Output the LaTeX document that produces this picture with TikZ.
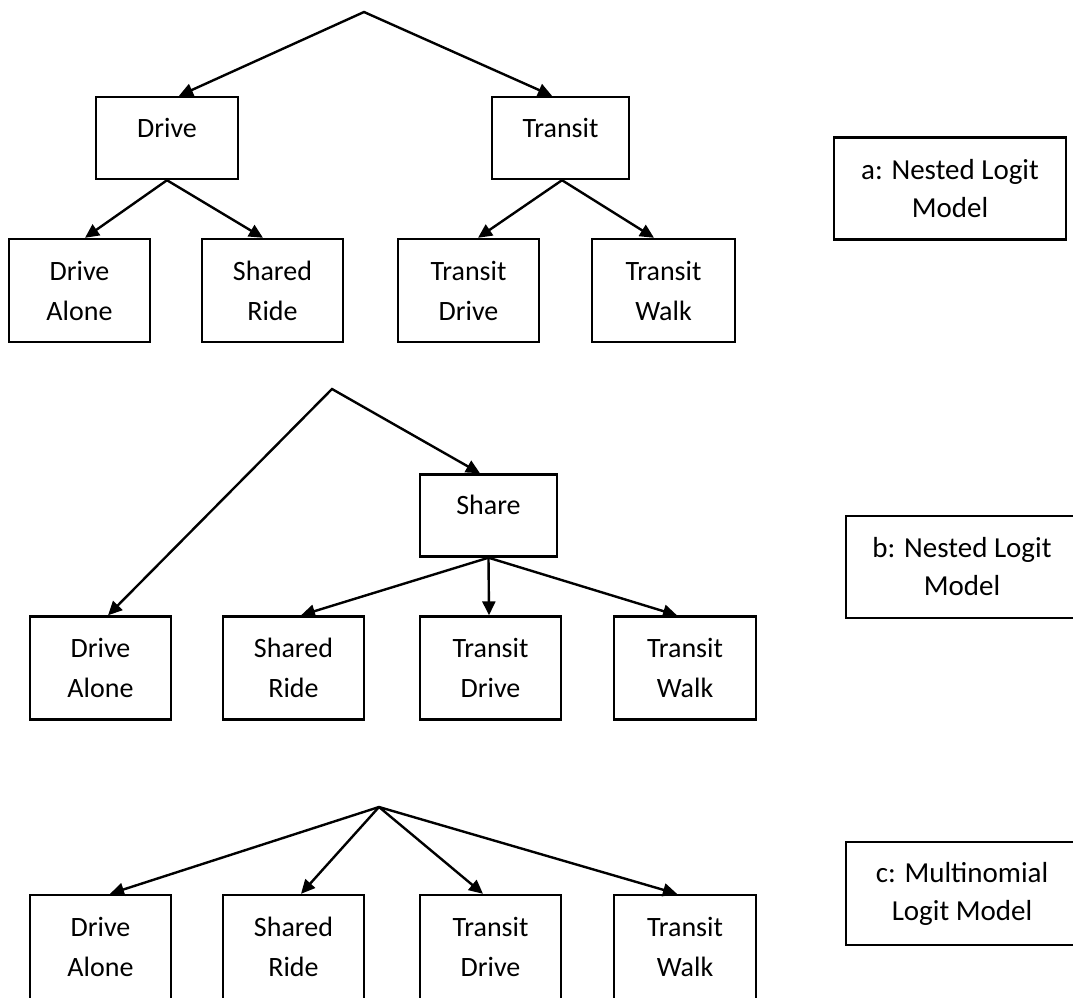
\documentclass[tikz,border=0pt]{standalone}
\usepackage{fontspec}
\setmainfont{Carlito}
\usetikzlibrary{arrows.meta}
\begin{document}
\begin{tikzpicture}[x=1pt,y=-1pt,
  line join=miter,
  tbox/.style={draw, line width=2.4pt, inner sep=0pt, minimum width=141pt, minimum height=103pt, align=center, font=\fontsize{28}{40}\selectfont},
  ubox/.style={draw, line width=2.4pt, inner sep=0pt, minimum height=82pt, text height=20pt, text depth=22pt, font=\fontsize{28}{40}\selectfont},
  lbox/.style={draw, line width=2.4pt, inner sep=0pt, minimum width=232pt, minimum height=102pt, align=center, font=\fontsize{29}{38}\selectfont},
  arr/.style={line width=2.4pt, -{Triangle[length=14pt,width=13pt]}},
  arrtwo/.style={line width=2.4pt, {Triangle[length=14pt,width=13pt]}-{Triangle[length=14pt,width=13pt]}}
]
\useasboundingbox (0,0) rectangle (1073,997);
\clip (0,0) rectangle (1073,997);

% ---------- a ----------
\coordinate (apexA) at (364,12);
\node[ubox, minimum width=142pt] (driveA) at (167,138) {Drive};
\node[ubox, minimum width=137pt] (transitA) at (560.5,138) {Transit};
\node[tbox] (daA) at (79.5,290.5) {Drive\\Alone};
\node[tbox] (srA) at (272.5,290.5) {Shared\\Ride};
\node[tbox] (tdA) at (468.5,290.5) {Transit\\Drive};
\node[tbox, minimum width=143pt] (twA) at (663.5,290.5) {Transit\\Walk};
\node[lbox] (labA) at (950,188.5) {a: Nested Logit\\Model};

\draw[arrtwo] ([xshift=12pt]driveA.north) -- (apexA) -- ([xshift=-8.5pt]transitA.north);
\draw[arr] (driveA.south) -- ([xshift=5.5pt]daA.north);
\draw[arr] (driveA.south) -- ([xshift=-9.5pt]srA.north);
\draw[arr] ([xshift=1.5pt]transitA.south) -- ([xshift=9.5pt]tdA.north);
\draw[arr] ([xshift=1.5pt]transitA.south) -- ([xshift=-9.5pt]twA.north);

% ---------- b ----------
\coordinate (apexB) at (332,389);
\node[ubox, minimum width=137pt] (shareB) at (488.5,515.5) {Share};
\node[tbox] (daB) at (100.5,668) {Drive\\Alone};
\node[tbox] (srB) at (293.5,668) {Shared\\Ride};
\node[tbox] (tdB) at (490.5,668) {Transit\\Drive};
\node[tbox, minimum width=142pt] (twB) at (685,668) {Transit\\Walk};
\node[lbox] (labB) at (962,567) {b: Nested Logit\\Model};

\draw[arrtwo] ([xshift=7.5pt]daB.north) -- (apexB) -- ([xshift=-8.5pt]shareB.north);
\draw[arr] (shareB.south) -- ([xshift=7.5pt]srB.north);
\draw[arr] (shareB.south) -- ([xshift=-1.5pt]tdB.north);
\draw[arr] (shareB.south) -- ([xshift=-8pt]twB.north);

% ---------- c ----------
\coordinate (apexC) at (379,807);
\node[tbox, minimum height=104pt] (daC) at (100.5,947) {Drive\\Alone};
\node[tbox, minimum height=104pt] (srC) at (293.5,947) {Shared\\Ride};
\node[tbox, minimum height=104pt] (tdC) at (490.5,947) {Transit\\Drive};
\node[tbox, minimum height=104pt, minimum width=142pt] (twC) at (685,947) {Transit\\Walk};
\node[lbox, minimum height=103pt] (labC) at (962,893.5) {c: Multinomial\\Logit Model};

\draw[arrtwo] ([xshift=9.5pt]daC.north) -- (apexC) -- ([xshift=-8pt]twC.north);
\draw[arr] (apexC) -- ([xshift=7.5pt]srC.north);
\draw[arr] (apexC) -- ([xshift=-7.5pt]tdC.north);
\end{tikzpicture}
\end{document}
